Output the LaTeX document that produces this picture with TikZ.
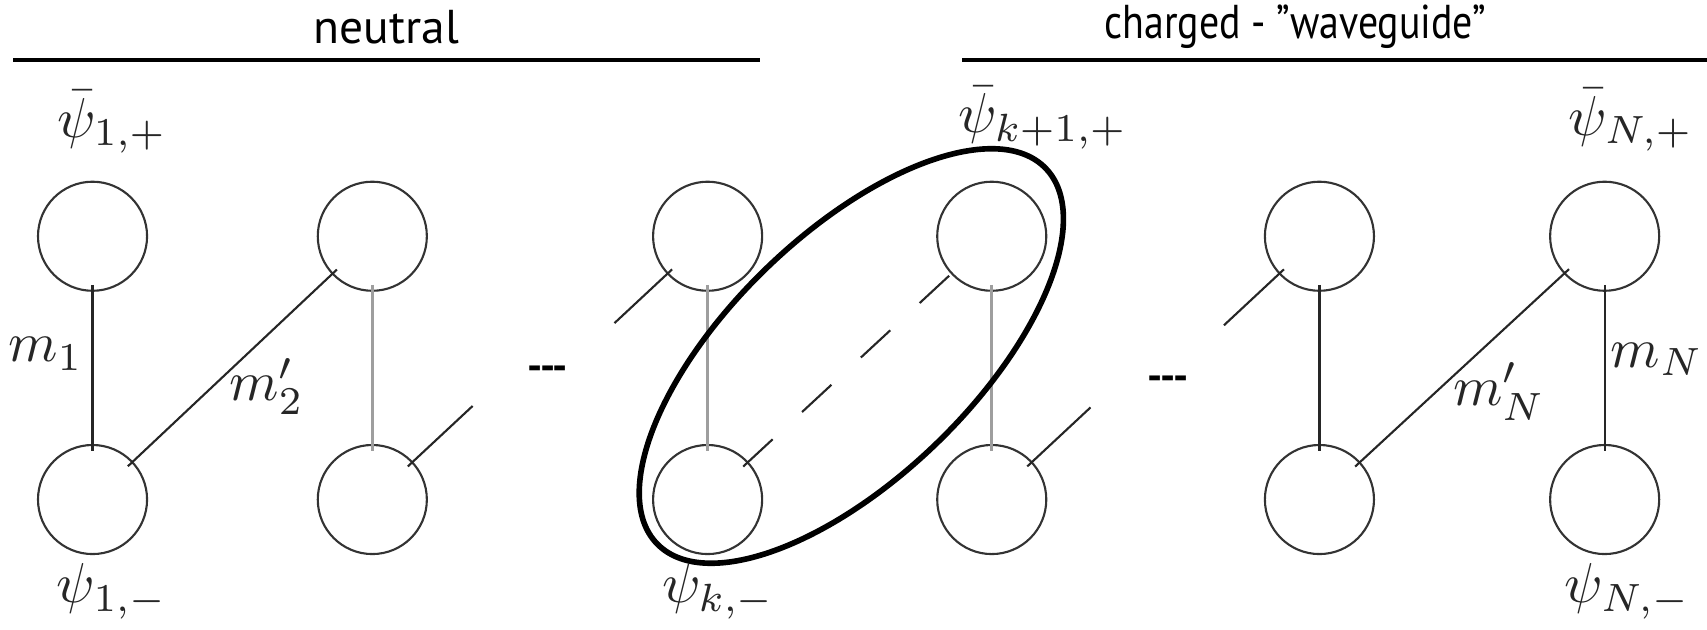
\documentclass[tikz,border=0pt]{standalone}
\usepackage{fontspec}
\newfontfamily\headfont{PT Sans}
\usetikzlibrary{positioning}
\usetikzlibrary{calc}

\tikzset{
  site/.style={circle, draw=black!80, line width=0.6pt, minimum size=1.09cm, inner sep=0pt},
  mass/.style={line width=0.6pt, draw=black!85, shorten <=-2pt, shorten >=-2pt},
  pale/.style={mass, line width=0.9pt, draw=black!38},
  lbl/.style={scale=1.6, text=black!85},
  head/.style={font=\headfont\fontsize{13.5}{16}\selectfont},
  gapdots/.style={font=\headfont\bfseries\fontsize{12}{14}\selectfont},
}

\begin{document}
\begin{tikzpicture}[x=0.010886cm, y=0.010886cm]
    \useasboundingbox (0,0) rectangle (1568,578);

    % Headers
    \node[head] (hneutral) at (355,553) {neutral};
    \node[head, xscale=0.84] (hcharged) at (1190,553) {charged - ”waveguide”};
    \draw[line width=1.3pt] (12,523) -- (698,523);
    \draw[line width=1.3pt] (884,523) -- (1568,523);

    % Sites
    \foreach \i/\x in {1/85, 2/342, 3/650, 4/911, 5/1212, 6/1474} {
        \node[site] (t\i) at (\x,361) {};
        \node[site, below=1.52cm of t\i] (b\i) {};
    }

    % Masses
    \foreach \i in {1,5,6} \draw[mass] (t\i) -- (b\i);
    \foreach \i in {2,3,4} \draw[pale] (t\i) -- (b\i);
    \draw[mass] (b1) -- (t2);
    \draw[mass] (b5) -- (t6);
    \draw[mass, dash pattern=on 11.4pt off 11.4pt] (b3) -- (t4);

    % Open ends
    \coordinate (s2) at ($(b2)+(43:126)$);
    \coordinate (s3) at ($(t3)+(223:117)$);
    \coordinate (s4) at ($(b4)+(43:124)$);
    \coordinate (s5) at ($(t5)+(223:120)$);
    \draw[mass, shorten >=0pt] (b2) -- (s2);
    \draw[mass, shorten <=0pt] (s3) -- (t3);
    \draw[mass, shorten >=0pt] (b4) -- (s4);
    \draw[mass, shorten <=0pt] (s5) -- (t5);

    \node[gapdots] (gap1) at (503,235) {-{}-{}-};
    \node[gapdots] (gap2) at (1073,226) {-{}-{}-};

    % Boundary pair
    \draw[line width=1.6pt, rotate around={44:(782,251)}] (782,251) ellipse [x radius=2.70cm, y radius=1.22cm];

    % Labels
    \node[lbl] (lt1) at (103,466) {$\bar\psi_{1,+}$};
    \node[lbl] (lt4) at (958,470) {$\bar\psi_{k+1,+}$};
    \node[lbl] (lt6) at (1498,468) {$\bar\psi_{N,+}$};
    \node[lbl] (lb1) at (103,35) {$\psi_{1,-}$};
    \node[lbl] (lb3) at (660,35) {$\psi_{k,-}$};
    \node[lbl] (lb6) at (1495,35) {$\psi_{N,-}$};
    \node[lbl] (m1) at (42,253) {$m_1$};
    \node[lbl] (m2) at (245,223) {$m'_2$};
    \node[lbl] (mNp) at (1377,218) {$m'_N$};
    \node[lbl] (mN) at (1522,248) {$m_N$};
\end{tikzpicture}
\end{document}
